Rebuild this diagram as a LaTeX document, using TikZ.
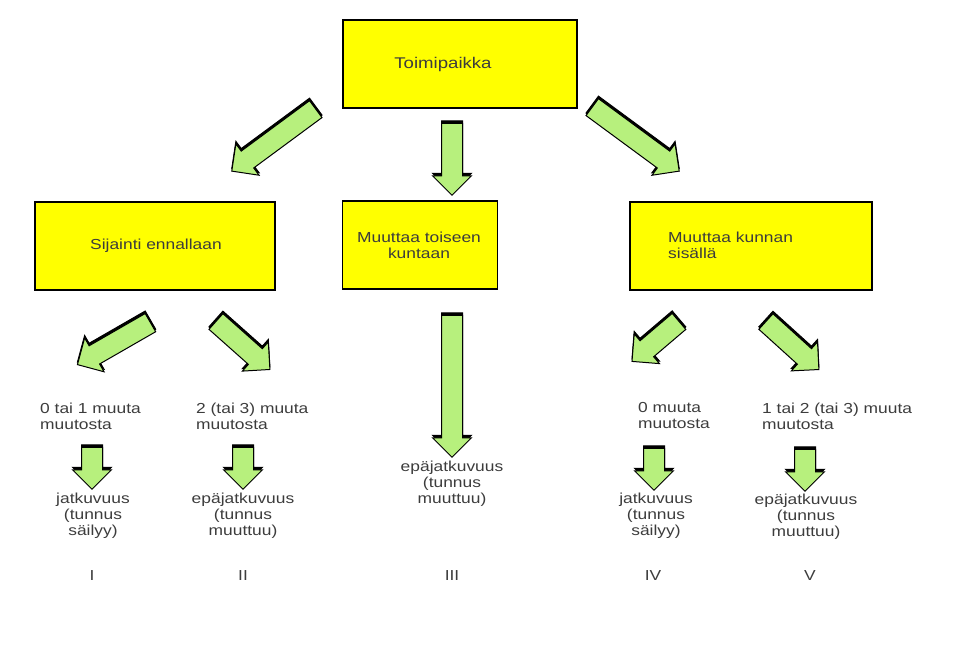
\documentclass[tikz,border=0pt]{standalone}
\usepackage{fontspec}
\setmainfont{Liberation Sans}[FakeStretch=1.2]
\usetikzlibrary{positioning}
\usetikzlibrary{shapes.arrows,shadows,calc}

\definecolor{boxyellow}{RGB}{255,255,0}
\definecolor{arrowgreen}{RGB}{183,240,125}
\definecolor{textgray}{RGB}{60,60,60}

% block arrow from tail to tip: name, tail, tip
\newcommand{\blockarrow}[3]{%
  \path let \p1=($(#3)-(#2)$), \n1={atan2(\y1,\x1)}, \n2={veclen(\x1,\y1)} in
    node[bigarrow, rotate=\n1, minimum height=\n2] (#1) at ($(#2)!0.5!(#3)$) {};
}

\begin{document}
\begin{tikzpicture}[x=1pt, y=-1pt,
  font=\fontsize{14.5}{16}\selectfont,
  box/.style={draw=black, line width=1.2pt, fill=boxyellow, minimum height=88pt, inner sep=0pt},
  boxtext/.style={text=textgray, align=center, inner sep=0pt},
  lbl/.style={text=textgray, align=left, inner sep=0pt},
  result/.style={text=textgray, align=center, inner sep=0pt},
  bigarrow/.style={single arrow, draw=black, line width=1pt, fill=arrowgreen,
    inner xsep=0pt, inner ysep=10pt, single arrow head extend=9pt, single arrow tip angle=90,
    copy shadow={shadow xshift=0pt, shadow yshift=2.5pt, fill=black, draw=black}}]
\useasboundingbox (0,0) rectangle (961,648);

% boxes
\node[box, minimum width=234pt] (top) at (460,64) {};
\node[boxtext, font=\fontsize{15.5}{17}\selectfont] (topt) at (443,64) {Toimipaikka};
\node[box, minimum width=240pt] (stay) at (155,246) {};
\node[boxtext] (stayt) at (156,246) {Sijainti ennallaan};
\node[box, minimum width=155pt] (other) at (420,245) {};
\node[boxtext] (othert) at (419,245) {Muuttaa toiseen\\kuntaan};
\node[box, minimum width=242pt] (inside) at (751,246) {};
\node[lbl, anchor=west] (insidet) at (668,245) {Muuttaa kunnan\\sisällä};

% labels under the boxes
\node[lbl, anchor=west] (c1) at (40,416) {0 tai 1 muuta\\muutosta};
\node[lbl, anchor=west] (c2) at (196,416) {2 (tai 3) muuta\\muutosta};
\node[lbl, anchor=west] (c4) at (638,416) {0 muuta\\muutosta};
\node[lbl, anchor=west] (c5) at (762,416) {1 tai 2 (tai 3) muuta\\muutosta};

\node[result] (r1) at (93,516) {jatkuvuus\\(tunnus\\säilyy)};
\node[result] (r2) at (243,516) {epäjatkuvuus\\(tunnus\\muuttuu)};
\node[result] (r3) at (452,484) {epäjatkuvuus\\(tunnus\\muuttuu)};
\node[result] (r4) at (656,516) {jatkuvuus\\(tunnus\\säilyy)};
\node[result] (r5) at (806,517) {epäjatkuvuus\\(tunnus\\muuttuu)};

\node[result] (n1) at (92,576) {I};
\node[result] (n2) at (243,576) {II};
\node[result] (n3) at (452,576) {III};
\node[result] (n4) at (653,576) {IV};
\node[result] (n5) at (810,576) {V};

% arrow ends
\coordinate (a1s) at (320,106);  \coordinate (a1e) at (236,168);
\coordinate (a2s) at (452,118);  \coordinate (a2e) at (452,190);
\coordinate (a3s) at (588,104);  \coordinate (a3e) at (675,168);
\coordinate (a4s) at (155,320);  \coordinate (a4e) at (82,362);
\coordinate (a5s) at (212,318);  \coordinate (a5e) at (266,366);
\coordinate (a6s) at (452,310);  \coordinate (a6e) at (452,452);
\coordinate (a7s) at (92,442);   \coordinate (a7e) at (92,484);
\coordinate (a8s) at (243,442);  \coordinate (a8e) at (243,484);
\coordinate (a9s) at (683,318);  \coordinate (a9e) at (636,358);
\coordinate (a10s) at (762,318); \coordinate (a10e) at (815,366);
\coordinate (a11s) at (654,443); \coordinate (a11e) at (654,485);
\coordinate (a12s) at (805,444); \coordinate (a12e) at (805,486);

% arrows
\blockarrow{a1}{a1s}{a1e}
\blockarrow{a2}{a2s}{a2e}
\blockarrow{a3}{a3s}{a3e}
\blockarrow{a4}{a4s}{a4e}
\blockarrow{a5}{a5s}{a5e}
\blockarrow{a6}{a6s}{a6e}
\blockarrow{a7}{a7s}{a7e}
\blockarrow{a8}{a8s}{a8e}
\blockarrow{a9}{a9s}{a9e}
\blockarrow{a10}{a10s}{a10e}
\blockarrow{a11}{a11s}{a11e}
\blockarrow{a12}{a12s}{a12e}
\end{tikzpicture}
\end{document}
